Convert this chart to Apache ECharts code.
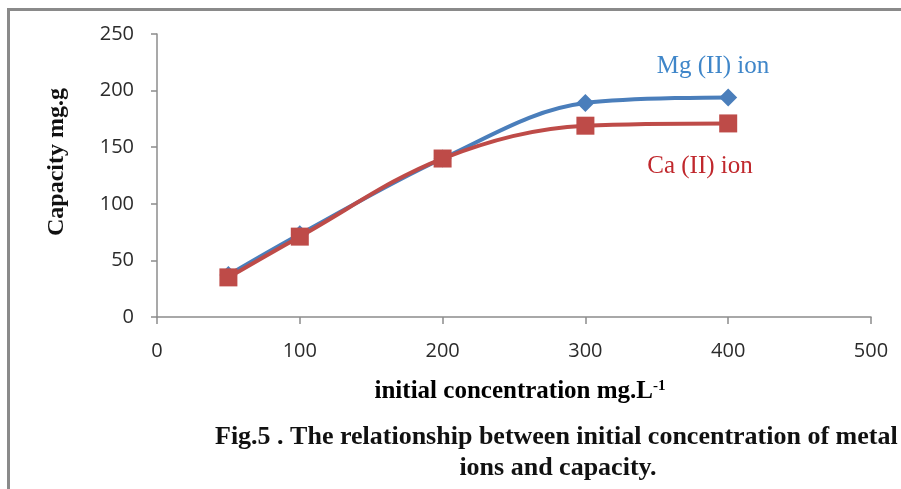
<!DOCTYPE html>
<html>
<head>
<meta charset="utf-8">
<script src="https://cdn.jsdelivr.net/npm/echarts@6/dist/echarts.min.js"></script>
<style>
  html, body { margin: 0; padding: 0; background: #fff; }
  #chart { width: 901px; height: 489px; }
</style>
</head>
<body>
<div id="chart"></div>
<script>
// Initial concentration (mg/L) and adsorption capacity for each ion
const concentration = [50, 100, 200, 300, 400];
const mgCapacity = [37, 73, 140, 189, 194];
const caCapacity = [35, 71, 140, 169, 171];
const xTicks = [0, 100, 200, 300, 400, 500];
const yTicks = [0, 50, 100, 150, 200, 250];

const blue = '#4A7EBB';
const red = '#BE4B48';

const chart = echarts.init(document.getElementById('chart'));
chart.setOption({
  backgroundColor: '#fff',
  animation: false,
  grid: { left: 157, right: 30, top: 34, bottom: 172 },
  xAxis: {
    type: 'value',
    min: xTicks[0], max: xTicks[xTicks.length - 1], interval: 100,
    axisLine: { show: true, lineStyle: { color: '#8c8c8c', width: 1.5 } },
    axisTick: { show: true, length: 7, lineStyle: { color: '#8c8c8c', width: 1.5 } },
    splitLine: { show: false },
    axisLabel: { margin: 24, fontFamily: 'Open Sans', fontSize: 20, color: '#2b2b2b' }
  },
  yAxis: {
    type: 'value',
    min: yTicks[0], max: yTicks[yTicks.length - 1], interval: 50,
    axisLine: { show: true, lineStyle: { color: '#8c8c8c', width: 1.5 } },
    axisTick: { show: true, length: 6, lineStyle: { color: '#8c8c8c', width: 1.5 } },
    splitLine: { show: false },
    axisLabel: { margin: 23, fontFamily: 'Open Sans', fontSize: 20, color: '#2b2b2b' }
  },
  series: [
    {
      name: 'Mg (II) ion',
      type: 'line',
      smooth: 0.35,
      data: concentration.map((c, i) => [c, mgCapacity[i]]),
      symbol: 'diamond',
      symbolSize: 18,
      itemStyle: { color: blue },
      lineStyle: { color: blue, width: 4 }
    },
    {
      name: 'Ca (II) ion',
      type: 'line',
      smooth: 0.35,
      data: concentration.map((c, i) => [c, caCapacity[i]]),
      symbol: 'rect',
      symbolSize: 18,
      itemStyle: { color: red },
      lineStyle: { color: red, width: 4 }
    }
  ],
  graphic: [
    {
      type: 'rect',
      shape: { x: 8.5, y: 9.5, width: 1000, height: 1000 },
      style: { fill: 'none', stroke: '#8a8a8a', lineWidth: 3 },
      silent: true
    },
    {
      type: 'text', x: 713, y: 66,
      style: { text: 'Mg (II) ion', fill: '#3f86c9', font: '25px "Liberation Serif"', align: 'center', verticalAlign: 'middle' }
    },
    {
      type: 'text', x: 700, y: 166,
      style: { text: 'Ca (II) ion', fill: '#c0282d', font: '25px "Liberation Serif"', align: 'center', verticalAlign: 'middle' }
    },
    {
      type: 'text', x: 57, y: 162, rotation: Math.PI / 2,
      style: { text: 'Capacity mg.g', fill: '#111', font: 'bold 24px "Liberation Serif"', align: 'center', verticalAlign: 'middle' }
    },
    {
      type: 'text', x: 520, y: 392,
      style: {
        text: '{a|initial concentration mg.L}{s|-1}',
        align: 'center', verticalAlign: 'middle',
        rich: {
          a: { font: 'bold 25px "Liberation Serif"', color: '#111' },
          s: { font: 'bold 15px "Liberation Serif"', color: '#111', verticalAlign: 'top', padding: [0, 0, 12, 0] }
        }
      }
    },
    {
      type: 'text', x: 215, y: 437,
      style: { text: 'Fig.5 . The relationship between initial concentration of metal', fill: '#111', font: 'bold 26px "Liberation Serif"', align: 'left', verticalAlign: 'middle' }
    },
    {
      type: 'text', x: 558, y: 468,
      style: { text: 'ions and capacity.', fill: '#111', font: 'bold 26px "Liberation Serif"', align: 'center', verticalAlign: 'middle' }
    }
  ]
});
</script>
</body>
</html>
